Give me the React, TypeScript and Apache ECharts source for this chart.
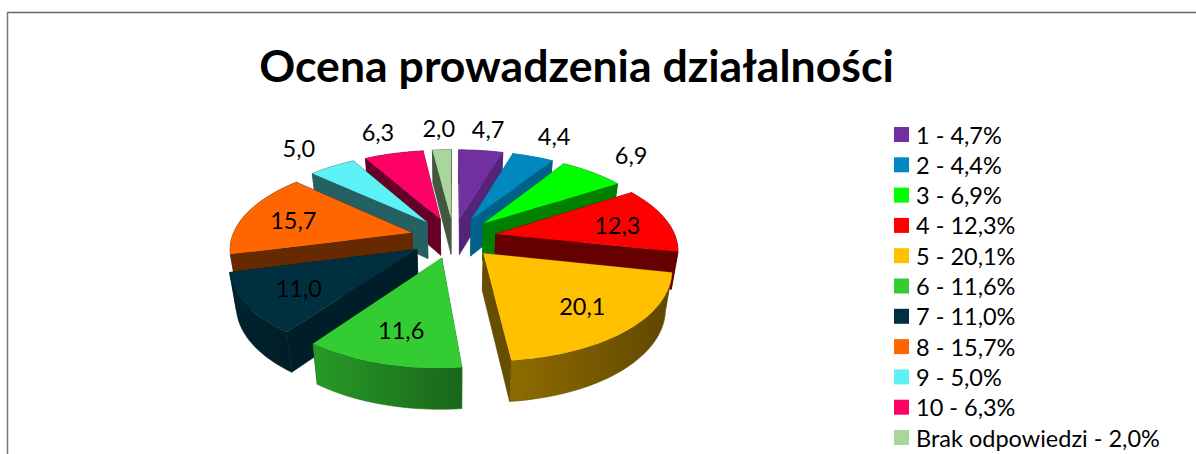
import React, { useEffect, useRef } from "react";
import * as echarts from "echarts";

const categories = ["1", "2", "3", "4", "5", "6", "7", "8", "9", "10", "Brak odpowiedzi"];
const values = [4.7, 4.4, 6.9, 12.3, 20.1, 11.6, 11.0, 15.7, 5.0, 6.3, 2.0];
const colors = ["#7030A0", "#0088BF", "#00FF00", "#FF0000", "#FFC000", "#33CC33", "#003040", "#FF6600", "#5CF1F5", "#FF0066", "#A9D69B"];
const wallShades = [0.75, 0.72, 0.5, 0.4, 0.4, 0.6, 0.62, 0.4, 0.4, 0.4, 0.4];
const rimShades = [
  [0.75, 0.75], [0.72, 0.72], [0.5, 0.5], [0.4, 0.4], [0.56, 0.37], [0.76, 0.5],
  [0.72, 0.62], [0.4, 0.4], [0.4, 0.4], [0.4, 0.4], [0.4, 0.4],
];
const titleText = "Ocena prowadzenia działalności";

const CX = 453.5, CY = 237.6, A = 180, B = 85, K = 0.16, EXPLODE = 0.24;
const DEPTH = 37, LEAN = 0.97;
const total = values.reduce((a, b) => a + b, 0);
const fmt = (v: number) => v.toFixed(1).replace(".", ",");

function shade(hex: string, f: number) {
  const n = parseInt(hex.slice(1), 16);
  const c = [(n >> 16) & 255, (n >> 8) & 255, n & 255].map((v) => Math.round(v * f));
  return `rgb(${c[0]},${c[1]},${c[2]})`;
}
function project(X: number, Y: number) {
  const s = 1 / (1 + K * Y);
  return { x: CX + A * X * s, y: CY - B * Y * s, s };
}
function topPt(ang: number, r: number, ox: number, oy: number): [number, number] {
  const p = project(r * Math.sin(ang) + ox, r * Math.cos(ang) + oy);
  return [p.x, p.y];
}
function botPt(ang: number, r: number, ox: number, oy: number): [number, number] {
  const p = project(r * Math.sin(ang) + ox, r * Math.cos(ang) + oy);
  return [CX + (p.x - CX) * LEAN, p.y + DEPTH * Math.pow(p.s, 0.5)];
}

function makeRenderItem(index: number) {
  return (_params: any, api: any) => {
    const value = api.value(0);
    const before = api.value(1);
    const color = colors[index];
    const a0 = (before / total) * Math.PI * 2;
    const a1 = ((before + value) / total) * Math.PI * 2;
    const mid = (a0 + a1) / 2;
    const ox = EXPLODE * Math.sin(mid), oy = EXPLODE * Math.cos(mid);
    const rank = Math.round((1.5 - oy) * 1000) * 10;

    const rimTop: [number, number][] = [];
    const rimBot: [number, number][] = [];
    const steps = Math.max(6, Math.ceil(value * 2));
    for (let i = 0; i <= steps; i++) {
      const a = a0 + ((a1 - a0) * i) / steps;
      rimTop.push(topPt(a, 1, ox, oy));
      rimBot.push(botPt(a, 1, ox, oy));
    }
    const apexT = topPt(0, 0, ox, oy);
    const apexB = botPt(0, 0, ox, oy);
    const xs = rimTop.map((p) => p[0]);
    const minX = Math.min(...xs), maxX = Math.max(...xs);
    const [sL, sR] = rimShades[index];
    const wallFill = shade(color, wallShades[index]);
    const walls = [
      { pts: [apexT, rimTop[0], rimBot[0], apexB], fill: wallFill as any, d: Math.cos(a0) / 2 + oy },
      { pts: [apexT, rimTop[steps], rimBot[steps], apexB], fill: wallFill as any, d: Math.cos(a1) / 2 + oy },
      {
        pts: [...rimTop, ...rimBot.slice().reverse()],
        fill: {
          type: "linear", x: minX, y: 0, x2: maxX, y2: 0, global: true,
          colorStops: [{ offset: 0, color: shade(color, sL) }, { offset: 1, color: shade(color, sR) }],
        } as any,
        d: Math.cos(mid) + oy,
      },
    ].sort((p, q) => q.d - p.d);

    const children: any[] = walls.map((w, i) => ({
      type: "polygon", silent: true, z2: rank + i,
      shape: { points: w.pts }, style: { fill: w.fill, stroke: wallFill, lineWidth: 0.6 },
    }));
    children.push({
      type: "polygon", silent: true, z2: rank + 5,
      shape: { points: [apexT, ...rimTop] }, style: { fill: color },
    });
    const t = value >= 11 ? 0.95 : 1.65;
    const lp = project(t * Math.sin(mid), t * Math.cos(mid));
    children.push({
      type: "text", silent: true, z2: 100000,
      style: {
        text: fmt(value), x: lp.x, y: lp.y + 1, align: "center", verticalAlign: "middle",
        fontFamily: "Lato", fontSize: 23.5, fill: "#000",
      },
    });
    return { type: "group", children };
  };
}

export default function App() {
  const ref = useRef<HTMLDivElement>(null);
  useEffect(() => {
    const chart = echarts.init(ref.current!, undefined, { renderer: "svg" });
    let cum = 0;
    const series = values.map((v, i) => {
      const start = cum;
      cum += v;
      return {
        type: "custom",
        name: `${categories[i]} - ${fmt(v)}%`,
        coordinateSystem: "none",
        silent: true,
        itemStyle: { color: colors[i] },
        data: [[v, start]],
        encode: { value: [0, 1] },
        renderItem: makeRenderItem(i),
      };
    });
    chart.setOption({
      animation: false,
      backgroundColor: "#fff",
      title: {
        text: titleText, left: 571.5, top: 37, textAlign: "center",
        textStyle: { fontFamily: "Lato", fontWeight: "bold", fontSize: 44.6, color: "#000" },
      },
      legend: {
        orient: "vertical", left: 894, top: 122.5, icon: "rect", padding: 0,
        height: 420, width: 300,
        itemWidth: 15, itemHeight: 15, itemGap: 6.3,
        selectedMode: false,
        textStyle: { fontFamily: "Lato", fontSize: 23.5, color: "#000", lineHeight: 20, padding: [0, 0, 0, 2] },
        data: series.map((s) => s.name),
      },
      graphic: [
        { type: "line", silent: true, shape: { x1: 7, y1: 12.5, x2: 1196, y2: 12.5 }, style: { stroke: "#666", lineWidth: 1.5 } },
        { type: "line", silent: true, shape: { x1: 7.5, y1: 12, x2: 7.5, y2: 454 }, style: { stroke: "#777", lineWidth: 1.5 } },
      ],
      series,
    });
    return () => chart.dispose();
  }, []);
  return <div ref={ref} style={{ position: "absolute", left: 0, top: 0, width: 1196, height: 454 }} />;
}
